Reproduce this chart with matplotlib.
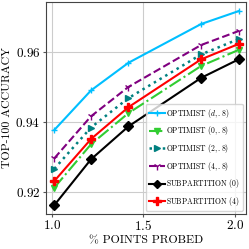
import matplotlib
matplotlib.use('Agg')
import matplotlib.pyplot as plt

plt.rcParams['font.family'] = ['cmr10', 'DejaVu Serif']
plt.rcParams['mathtext.fontset'] = 'cm'
plt.rcParams['axes.formatter.use_mathtext'] = True

# fraction of points probed (%)
x = [1.014, 1.214, 1.418, 1.815, 2.02]

opt_d = [0.9377, 0.9490, 0.9569, 0.9680, 0.9717]
opt_0 = [0.9212, 0.9336, 0.9425, 0.9560, 0.9606]
opt_2 = [0.9266, 0.9384, 0.9468, 0.9593, 0.9637]
opt_4 = [0.9296, 0.9416, 0.9500, 0.9620, 0.9660]
sub_0 = [0.9162, 0.9293, 0.9387, 0.9526, 0.9579]
sub_4 = [0.9231, 0.9351, 0.9442, 0.9579, 0.9623]

labels = [r'OPTIMIST $(d, .8)$', r'OPTIMIST $(0, .8)$', r'OPTIMIST $(2, .8)$',
          r'OPTIMIST $(4, .8)$', r'SUBPARTITION $(0)$', r'SUBPARTITION $(4)$']

fig = plt.figure(figsize=(2.49, 2.49), dpi=100)
ax = fig.add_axes([0.185, 0.141, 0.803, 0.851])

ax.plot(x, opt_d, color='#00bfff', ls='-', marker='+', ms=5, lw=1.5, label=labels[0])
ax.plot(x, opt_0, color='#32cd32', ls='-.', marker='v', ms=5, lw=1.5, label=labels[1])
ax.plot(x, opt_2, color='teal', ls=':', marker='>', ms=5, lw=1.8, label=labels[2])
ax.plot(x, opt_4, color='purple', ls='--', marker='1', ms=6, lw=1.5, label=labels[3])
ax.plot(x, sub_0, color='black', ls='-', marker='D', ms=5, lw=1.5, label=labels[4])
ax.plot(x, sub_4, color='red', ls='-', marker='P', ms=6, lw=1.5, label=labels[5])

ax.set_xlim(0.969, 2.06)
ax.set_ylim(0.9137, 0.9743)
ax.set_xticks([1.0, 1.5, 2.0])
ax.set_yticks([0.92, 0.94, 0.96])
ax.tick_params(labelsize=9.5, length=2, pad=2, color='#555555')
ax.grid(True, color='#cccccc', lw=0.8)
ax.set_axisbelow(True)
for s in ax.spines.values():
    s.set_color('#444444')
    s.set_linewidth(0.8)

ax.set_xlabel('% POINTS PROBED', fontsize=8.5, labelpad=2)
ax.set_ylabel('TOP-100 ACCURACY', fontsize=8.5)
ax.yaxis.set_label_coords(-0.17, 0.5)

leg = ax.legend(loc='lower right', fontsize=5.5, handlelength=2.1, handletextpad=0.2,
                labelspacing=0.6, borderpad=0.4, borderaxespad=0.4, markerscale=0.85,
                framealpha=0.8, fancybox=True)
leg.get_frame().set_edgecolor('#cccccc')

fig.savefig('out.png', dpi=100)
